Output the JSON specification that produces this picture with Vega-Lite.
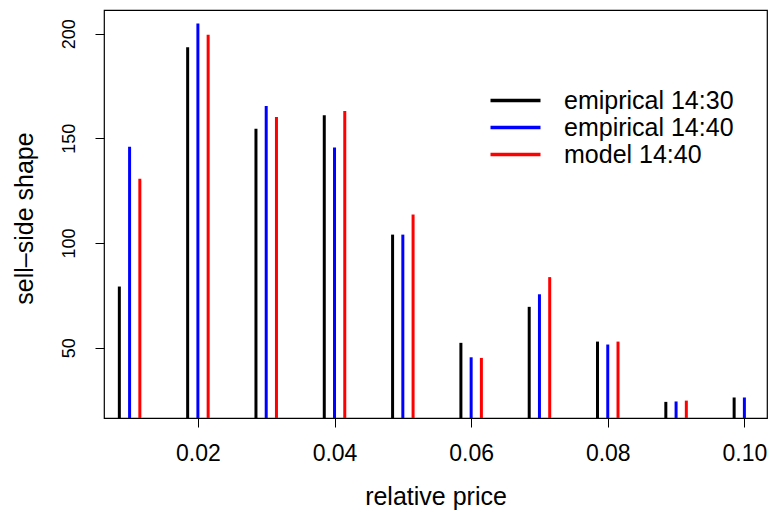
{
  "$schema": "https://vega.github.io/schema/vega-lite/v6.json",
  "width": 663,
  "height": 408,
  "autosize": "none",
  "padding": {"left": 104, "top": 10, "right": 3, "bottom": 94},
  "background": "white",
  "config": {
    "font": "Liberation Sans",
    "view": {"stroke": "#000000", "strokeWidth": 1.2},
    "axis": {"grid": false, "domain": false, "tickColor": "#000000", "tickSize": 9, "tickWidth": 1, "labelColor": "#000000", "titleColor": "#000000", "titleFontWeight": "normal", "labelFont": "Liberation Sans", "titleFont": "Liberation Sans"}
  },
  "data": {
    "values": [
      {"price": 0.0085, "shape": 79.2, "series": "emiprical 14:30"},
      {"price": 0.0100, "shape": 146.0, "series": "empirical 14:40"},
      {"price": 0.0115, "shape": 130.7, "series": "model 14:40"},
      {"price": 0.0185, "shape": 193.5, "series": "emiprical 14:30"},
      {"price": 0.0200, "shape": 204.8, "series": "empirical 14:40"},
      {"price": 0.0215, "shape": 199.5, "series": "model 14:40"},
      {"price": 0.0285, "shape": 154.6, "series": "emiprical 14:30"},
      {"price": 0.0300, "shape": 165.5, "series": "empirical 14:40"},
      {"price": 0.0315, "shape": 160.2, "series": "model 14:40"},
      {"price": 0.0385, "shape": 161.0, "series": "emiprical 14:30"},
      {"price": 0.0400, "shape": 145.6, "series": "empirical 14:40"},
      {"price": 0.0415, "shape": 163.1, "series": "model 14:40"},
      {"price": 0.0485, "shape": 104.0, "series": "emiprical 14:30"},
      {"price": 0.0500, "shape": 104.0, "series": "empirical 14:40"},
      {"price": 0.0515, "shape": 113.6, "series": "model 14:40"},
      {"price": 0.0585, "shape": 52.3, "series": "emiprical 14:30"},
      {"price": 0.0600, "shape": 45.4, "series": "empirical 14:40"},
      {"price": 0.0615, "shape": 45.1, "series": "model 14:40"},
      {"price": 0.0685, "shape": 69.5, "series": "emiprical 14:30"},
      {"price": 0.0700, "shape": 75.5, "series": "empirical 14:40"},
      {"price": 0.0715, "shape": 83.7, "series": "model 14:40"},
      {"price": 0.0785, "shape": 52.9, "series": "emiprical 14:30"},
      {"price": 0.0800, "shape": 51.5, "series": "empirical 14:40"},
      {"price": 0.0815, "shape": 52.9, "series": "model 14:40"},
      {"price": 0.0885, "shape": 24.1, "series": "emiprical 14:30"},
      {"price": 0.0900, "shape": 24.3, "series": "empirical 14:40"},
      {"price": 0.0915, "shape": 24.7, "series": "model 14:40"},
      {"price": 0.0985, "shape": 26.2, "series": "emiprical 14:30"},
      {"price": 0.1000, "shape": 26.2, "series": "empirical 14:40"}
    ]
  },
  "mark": {"type": "rule", "strokeWidth": 3, "clip": true},
  "encoding": {
    "x": {
      "field": "price",
      "type": "quantitative",
      "scale": {"domain": [0.006254, 0.10331], "nice": false, "zero": false},
      "axis": {
        "values": [0.02, 0.04, 0.06, 0.08, 0.10],
        "format": ".2f",
        "labelFontSize": 23,
        "labelPadding": 15,
        "labelBaseline": "top",
        "title": "relative price",
        "titleFontSize": 25,
        "titleBaseline": "alphabetic",
        "titleY": 86
      }
    },
    "y": {
      "field": "shape",
      "type": "quantitative",
      "scale": {"domain": [16.4, 211.3], "nice": false, "zero": false},
      "axis": {
        "values": [50, 100, 150, 200],
        "labelAngle": 270,
        "labelAlign": "center",
        "labelBaseline": "alphabetic",
        "labelFontSize": 18,
        "labelPadding": 21,
        "title": "sell\u2013side shape",
        "titleFontSize": 25,
        "titleAngle": 270,
        "titleBaseline": "alphabetic",
        "titleX": -72,
        "titleY": 208
      }
    },
    "y2": {"datum": 0},
    "color": {
      "field": "series",
      "type": "nominal",
      "scale": {"domain": ["emiprical 14:30", "empirical 14:40", "model 14:40"], "range": ["#000000", "#0000FF", "#FF0000"]},
      "legend": {
        "orient": "none",
        "legendX": 399,
        "legendY": 78,
        "title": null,
        "padding": 0,
        "symbolType": "M-5,0H5",
        "symbolSize": 100,
        "symbolStrokeWidth": 3.5,
        "symbolFillColor": "transparent",
        "labelFontSize": 25,
        "labelColor": "#000000",
        "labelOffset": 36,
        "labelLimit": 400,
        "rowPadding": 1,
        "labelFont": "Liberation Sans"
      }
    }
  }
}
